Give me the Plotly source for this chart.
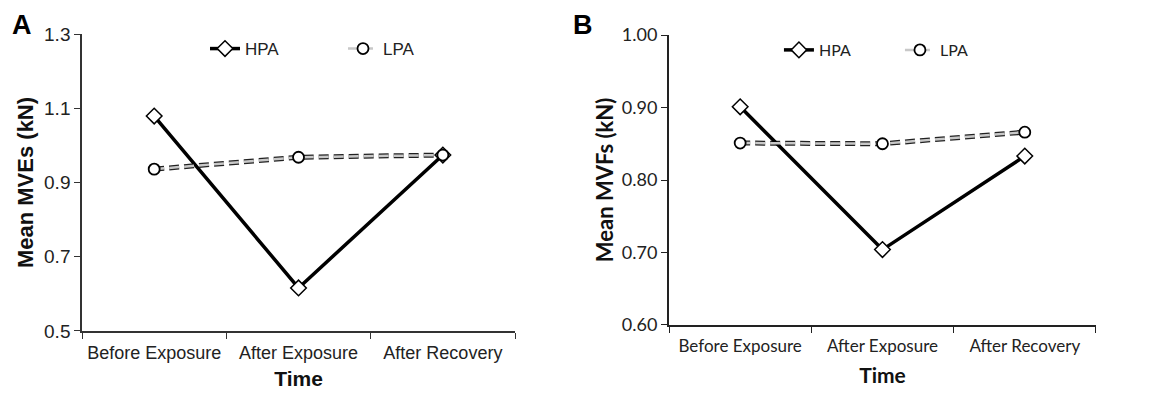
import plotly.graph_objects as go

categories = ["Before Exposure", "After Exposure", "After Recovery"]
hpa_mves = [1.079, 0.616, 0.974]
lpa_mves = [0.936, 0.968, 0.974]
hpa_mvfs = [0.901, 0.704, 0.833]
lpa_mvfs = [0.851, 0.850, 0.866]

fig = go.Figure()

def add_panel(xa, ya, hpa, lpa, legend):
    # LPA: outlined dashed line (black outline + grey core)
    fig.add_trace(go.Scatter(x=categories, y=lpa, mode="lines", xaxis=xa, yaxis=ya,
                             line=dict(color="#222", width=5, dash="10px,5px"),
                             showlegend=False, hoverinfo="skip"))
    fig.add_trace(go.Scatter(x=categories, y=hpa, mode="lines+markers", name="HPA",
                             xaxis=xa, yaxis=ya, legend=legend,
                             line=dict(color="black", width=3.5),
                             marker=dict(symbol="diamond", size=12, color="white",
                                         line=dict(color="black", width=1.5))))
    fig.add_trace(go.Scatter(x=categories, y=lpa, mode="lines+markers", name="LPA",
                             xaxis=xa, yaxis=ya, legend=legend,
                             line=dict(color="#c8c8c8", width=2.5, dash="10px,5px"),
                             marker=dict(symbol="circle", size=11, color="white",
                                         line=dict(color="black", width=1.8))))

add_panel("x", "y", hpa_mves, lpa_mves, "legend")
add_panel("x2", "y2", hpa_mvfs, lpa_mvfs, "legend2")

fontA = "Liberation Sans, Arial, sans-serif"
fontB = "Lato, Open Sans, sans-serif"

xcommon = dict(type="category", tickson="boundaries", range=[-0.5, 2.5], automargin=False,
               tickangle=0, showline=True, ticks="outside", ticklen=6, showgrid=False, zeroline=False,
               ticklabelstandoff=5)

fig.update_layout(
    width=1144, height=387,
    margin=dict(l=0, r=0, t=0, b=0),
    paper_bgcolor="white", plot_bgcolor="white",
    xaxis=dict(domain=[0.0647, 0.4432], anchor="y", linewidth=1.5, linecolor="#333", tickcolor="#333",
               tickfont=dict(family=fontA, size=18, color="#222"),
               title=dict(text="<b>Time</b>", font=dict(family=fontA, size=21, color="#111"), standoff=9),
               **xcommon),
    yaxis=dict(domain=[0.1654, 0.9328], anchor="x", range=[0.5, 1.3], tickvals=[0.5, 0.7, 0.9, 1.1, 1.3],
               tickformat=".1f", showline=True, linewidth=1.5, linecolor="#333", ticks="outside",
               ticklen=6, tickcolor="#333", showgrid=False, zeroline=False, automargin=False,
               tickfont=dict(family=fontA, size=19, color="#222"),
               title=dict(text="<b>Mean MVEs (kN)</b>", font=dict(family=fontA, size=22, color="#111"), standoff=4)),
    xaxis2=dict(domain=[0.5778, 0.9510], anchor="y2", linewidth=2, linecolor="#222", tickcolor="#222",
                tickfont=dict(family=fontB, size=17, color="#222"),
                title=dict(text="<b>Time</b>", font=dict(family=fontB, size=21, color="#111"), standoff=13),
                **xcommon),
    yaxis2=dict(domain=[0.1809, 0.9302], anchor="x2", range=[0.6, 1.0], tickvals=[0.6, 0.7, 0.8, 0.9, 1.0],
                tickformat=".2f", showline=True, linewidth=2, linecolor="#222", ticks="outside",
                ticklen=6, tickcolor="#222", showgrid=False, zeroline=False, automargin=False,
                tickfont=dict(family=fontB, size=18, color="#222"),
                title=dict(text="<b>Mean MVFs (kN)</b>", font=dict(family=fontB, size=22, color="#111"), standoff=2)),
    legend=dict(orientation="h", x=0.1722, y=0.894, xanchor="left", yanchor="middle",
                font=dict(family=fontA, size=17, color="#222"), itemwidth=30,
                entrywidth=93, bgcolor="rgba(0,0,0,0)"),
    legend2=dict(orientation="h", x=0.6739, y=0.8915, xanchor="left", yanchor="middle",
                 font=dict(family=fontB, size=16, color="#222"), itemwidth=30,
                 entrywidth=76, bgcolor="rgba(0,0,0,0)"),
    annotations=[
        dict(text="<b>A</b>", x=0.002, y=1.0, xref="paper", yref="paper", showarrow=False,
             xanchor="left", yanchor="top", font=dict(family=fontA, size=27, color="black")),
        dict(text="<b>B</b>", x=0.492, y=1.0, xref="paper", yref="paper", showarrow=False,
             xanchor="left", yanchor="top", font=dict(family=fontA, size=27, color="black")),
    ],
)

fig.write_html("out.html")
